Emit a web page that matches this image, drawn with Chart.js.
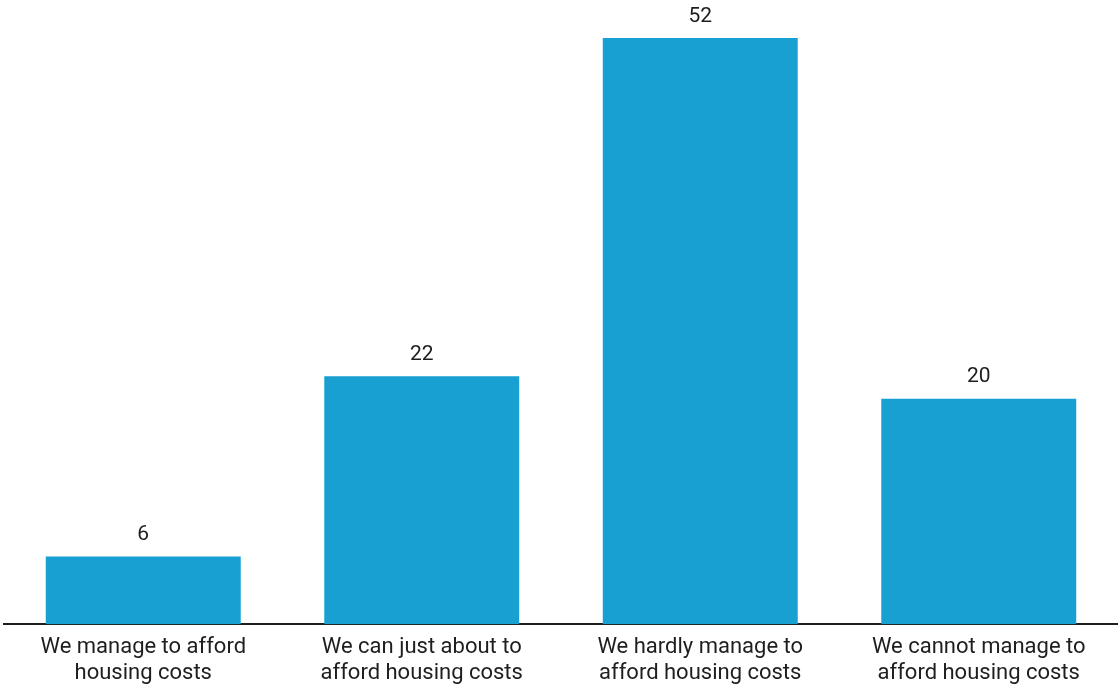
<!DOCTYPE html>
<html>
<head>
<meta charset="utf-8">
<script src="https://cdn.jsdelivr.net/npm/chart.js@4/dist/chart.umd.min.js"></script>
<style>
  html, body { margin: 0; padding: 0; background: #ffffff; }
  #wrap { width: 1118px; height: 689px; position: relative; }
</style>
</head>
<body>
<div id="wrap"><canvas id="c"></canvas></div>
<script>
const categories = [
  ["We manage to afford", "housing costs"],
  ["We can just about to", "afford housing costs"],
  ["We hardly manage to", "afford housing costs"],
  ["We cannot manage to", "afford housing costs"]
];
const values = [6, 22, 52, 20];
const valueLabels = ["6", "22", "52", "20"];

const barColor = "#17a0d1";
const textColor = "#1e1e1e";
const fontFamily = "Roboto, 'Noto Sans', sans-serif";

const valueLabelPlugin = {
  id: "valueLabels",
  afterDatasetsDraw(chart) {
    const ctx = chart.ctx;
    const meta = chart.getDatasetMeta(0);
    ctx.save();
    ctx.fillStyle = textColor;
    ctx.font = "21px " + fontFamily;
    ctx.textAlign = "center";
    ctx.textBaseline = "bottom";
    meta.data.forEach((bar, i) => {
      ctx.fillText(valueLabels[i], bar.x, bar.y - 11);
    });
    ctx.restore();
  }
};

new Chart(document.getElementById("c"), {
  type: "bar",
  data: {
    labels: categories,
    datasets: [{
      data: values,
      backgroundColor: barColor,
      borderWidth: 0,
      barPercentage: 0.7,
      categoryPercentage: 1.0
    }]
  },
  options: {
    responsive: true,
    maintainAspectRatio: false,
    animation: false,
    layout: { padding: { top: 38, left: 4, right: 0, bottom: -8 } },
    plugins: { legend: { display: false }, tooltip: { enabled: false } },
    scales: {
      x: {
        grid: { display: false, drawTicks: false, tickLength: 0 },
        border: { display: true, color: textColor, width: 2 },
        ticks: {
          color: textColor,
          font: { family: fontFamily, size: 22, lineHeight: 1.2 },
          padding: 10,
          maxRotation: 0,
          autoSkip: false
        }
      },
      y: {
        display: false,
        min: 0,
        max: 52
      }
    }
  },
  plugins: [valueLabelPlugin]
});
</script>
</body>
</html>
